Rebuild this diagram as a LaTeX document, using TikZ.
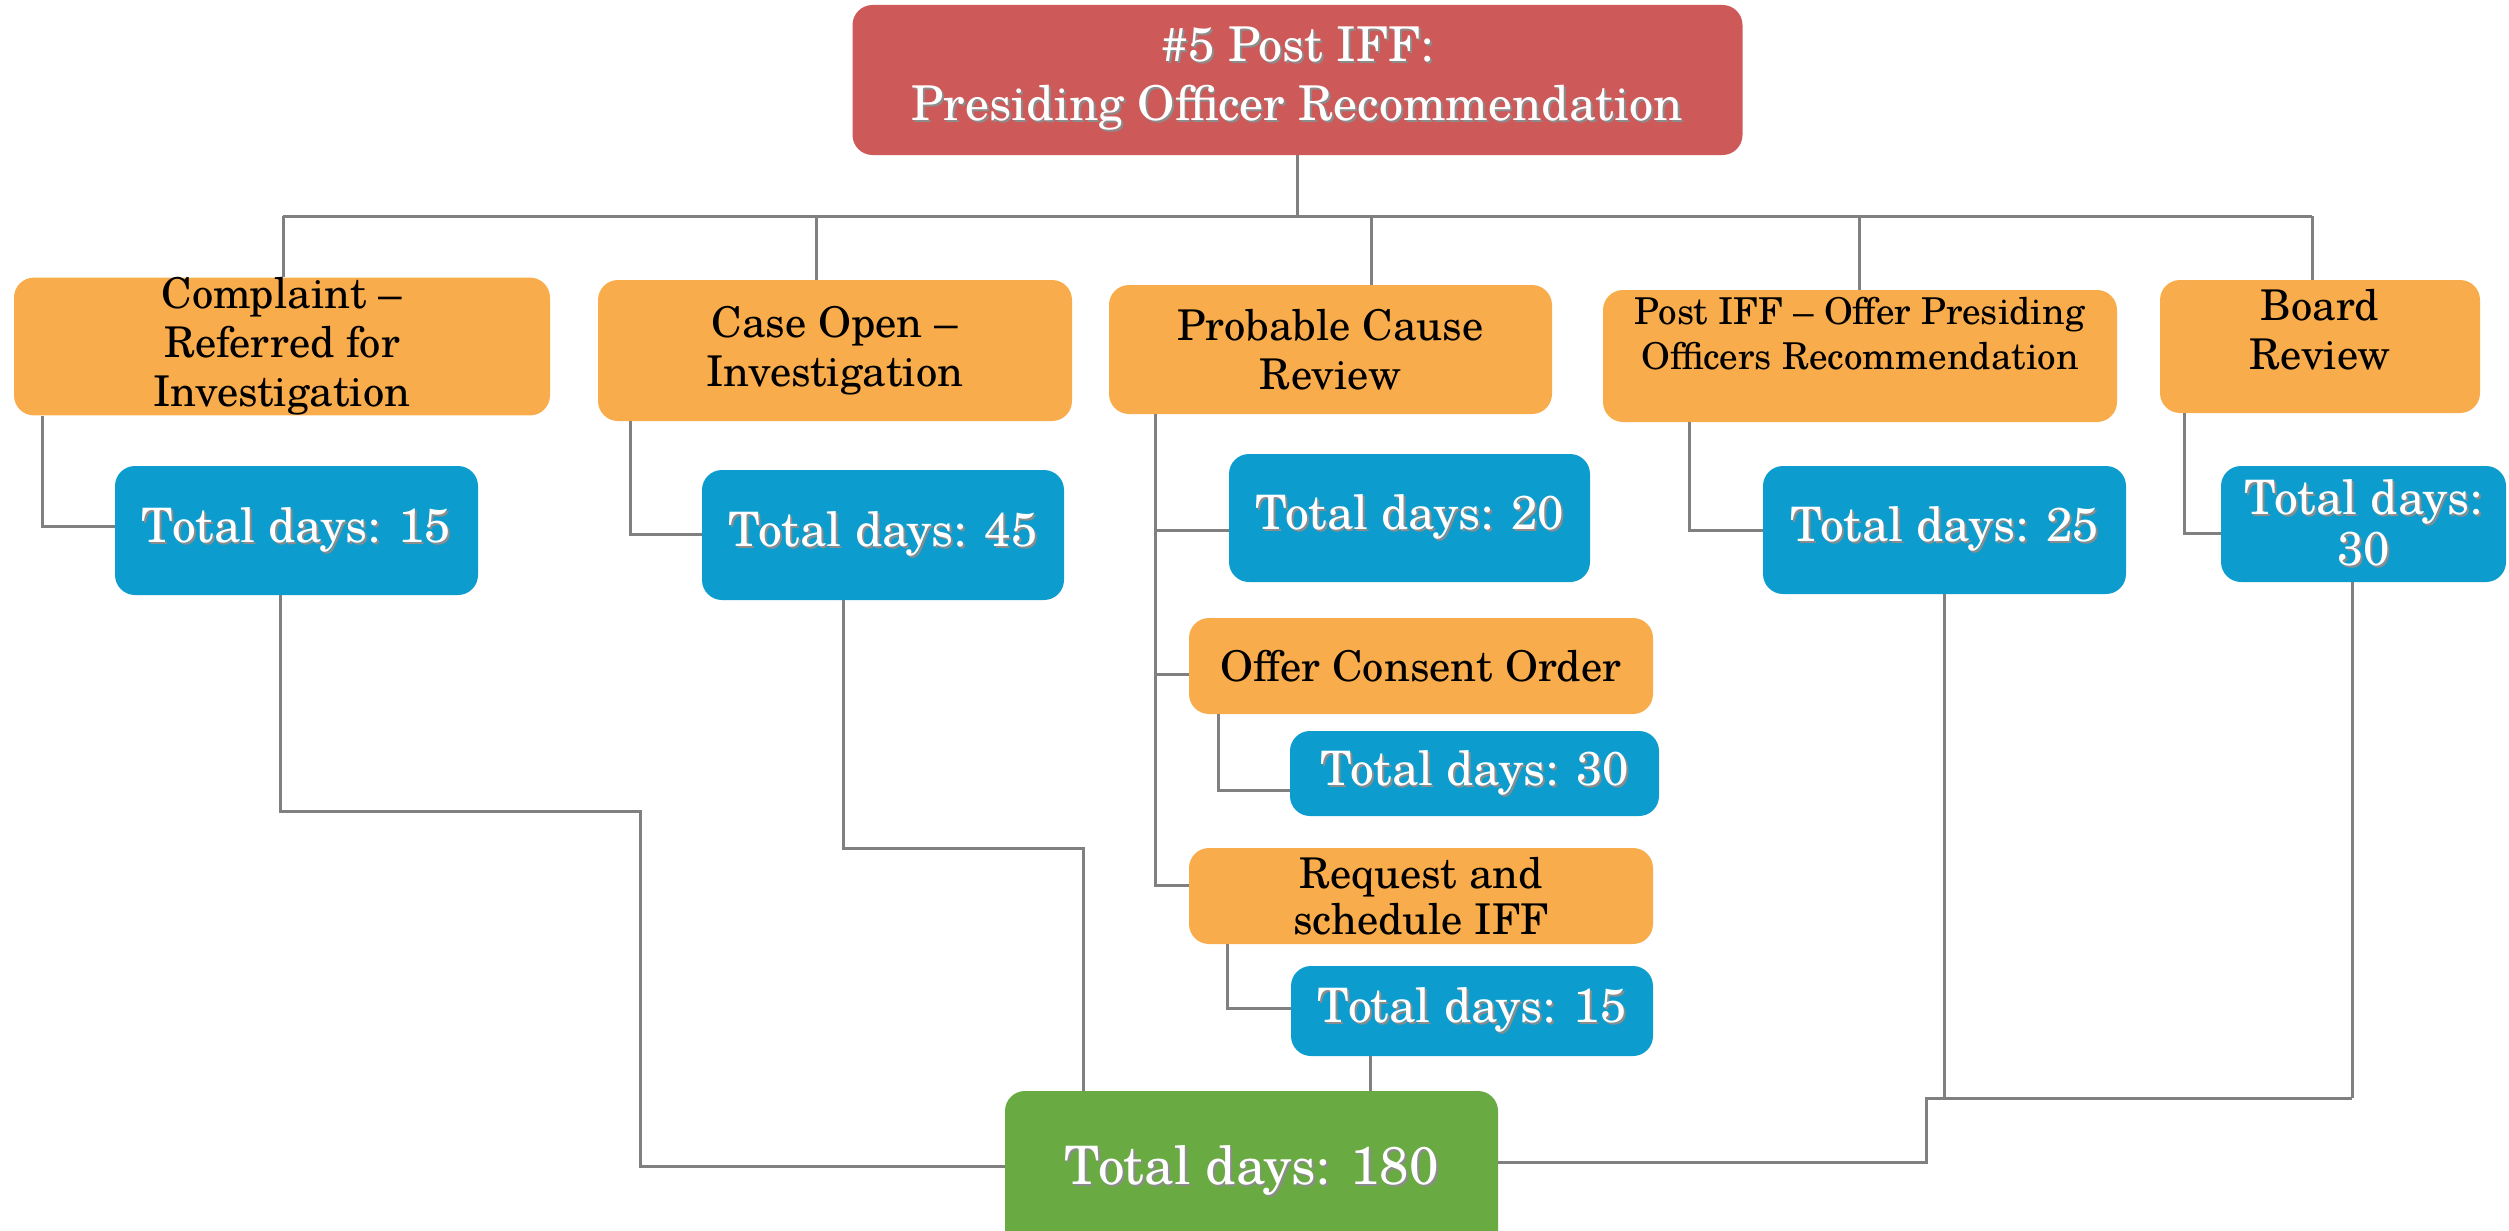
\documentclass[tikz,border=0pt]{standalone}
\usepackage{fontspec}
\setmainfont{TeX Gyre Schola}
\usetikzlibrary{calc}
\definecolor{cred}{RGB}{205,89,89}
\definecolor{corange}{RGB}{249,172,75}
\definecolor{cblue}{RGB}{12,157,206}
\definecolor{cgreen}{RGB}{105,170,67}
\definecolor{cline}{RGB}{128,128,128}
\newcommand\shd[1]{\leavevmode\rlap{\kern2pt\raisebox{-2pt}{\textcolor{black!45}{#1}}}#1}
\tikzset{
  box/.style={rectangle, rounded corners=20pt, inner sep=0pt, align=center},
  redbox/.style={box, fill=cred, text=white, font=\fontsize{48}{59}\selectfont},
  obox/.style={box, fill=corange, text=black, font=\fontsize{42.4}{49}\selectfont},
  bbox/.style={box, fill=cblue, text=white, font=\fontsize{47.5}{52}\selectfont},
  gbox/.style={box, fill=cgreen, text=white, font=\fontsize{53}{60}\selectfont},
  conn/.style={draw=cline, line width=3pt},
}
\begin{document}
\begin{tikzpicture}[x=1pt,y=-1pt]
\useasboundingbox (0,0) rectangle (2509,1231);
% top
\node[redbox, minimum width=890pt, minimum height=150pt] (R) at (1297.5,80) {\shd{\#5 Post IFF:}\\\shd{Presiding Officer Recommendation}};
% level 1
\node[obox, minimum width=536pt, minimum height=133pt] (O1) at (282,346.5) {Complaint –\\Referred for\\Investigation};
\node[obox, minimum width=474pt, minimum height=141pt] (O2) at (835,350.5) {Case Open –\\Investigation};
\node[obox, minimum width=443pt, minimum height=129pt] (O3) at (1330.5,349.5) {Probable Cause\\Review};
\node[obox, minimum width=514pt, minimum height=132pt, font=\fontsize{37}{45}\selectfont] (O4) at (1860,356) {Post IFF – Offer Presiding\\Officers Recommendation\\\mbox{}};
\node[obox, minimum width=320pt, minimum height=133pt] (O5) at (2320,346.5) {Board\\Review\\[-14pt]\mbox{}};
% level 2
\node[bbox, minimum width=363pt, minimum height=129pt] (B1) at (296.5,530.5) {\shd{Total days: 15}};
\node[bbox, minimum width=362pt, minimum height=130pt] (B2) at (883,535) {\shd{Total days: 45}};
\node[bbox, minimum width=361pt, minimum height=128pt] (B3) at (1409.5,518) {\shd{Total days: 20}};
\node[bbox, minimum width=363pt, minimum height=128pt] (B4) at (1944.5,530) {\shd{Total days: 25}};
\node[bbox, minimum width=285pt, minimum height=116pt, font=\fontsize{47.5}{51}\selectfont] (B5) at (2363.5,524) {\shd{Total days:}\\\shd{30}};
% probable cause branch
\node[obox, minimum width=464pt, minimum height=96pt] (O6) at (1421,666) {Offer Consent Order};
\node[bbox, minimum width=369pt, minimum height=85pt] (B6) at (1474.5,773.5) {\shd{Total days: 30}};
\node[obox, minimum width=464pt, minimum height=96pt, font=\fontsize{42.4}{46}\selectfont] (O7) at (1421,896) {Request and\\schedule IFF};
\node[bbox, minimum width=362pt, minimum height=90pt] (B7) at (1472,1011) {\shd{Total days: 15}};
% total
\node[gbox, minimum width=493pt, minimum height=160pt] (G) at (1251.5,1171) {\shd{Total days: 180}};

% connectors: top tree
\coordinate (hub) at (1297.5,216);
\coordinate (hl) at (283,216);
\coordinate (hr) at (2312,216);
\draw[conn] (R.south) -- (hub);
\draw[conn] (hl) -- (hr);
\draw[conn] (hl) -- (O1.north -| hl);
\draw[conn] (hub -| 816,0) -- (O2.north -| 816,0);
\draw[conn] (hub -| 1371,0) -- (O3.north -| 1371,0);
\draw[conn] (hub -| 1859,0) -- (O4.north -| 1859,0);
\draw[conn] (hr) -- (O5.north -| hr);
% children
\draw[conn] (O1.south -| 42,0) |- (B1.west |- 0,526);
\draw[conn] (O2.south -| 630,0) |- (B2.west |- 0,534);
\draw[conn] (O3.south -| 1155,0) |- (B3.west |- 0,530);
\draw[conn] (O3.south -| 1155,0) |- (O6.west |- 0,674);
\draw[conn] (O3.south -| 1155,0) |- (O7.west |- 0,885);
\draw[conn] (O4.south -| 1689,0) |- (B4.west |- 0,530);
\draw[conn] (O5.south -| 2184,0) |- (B5.west |- 0,533);
\draw[conn] (O6.south -| 1218,0) |- (B6.west |- 0,790);
\draw[conn] (O7.south -| 1227,0) |- (B7.west |- 0,1008);
% to total
\draw[conn] (B1.south -| 280,0) -- (280,811) -- (640,811) |- (G.west |- 0,1166);
\draw[conn] (B2.south -| 843,0) -- (843,848) -| (G.north -| 1083,0);
\draw[conn] (B7.south -| 1370,0) -- (G.north -| 1370,0);
\coordinate (jr) at (2352,1098);
\draw[conn] (G.east |- 0,1162) -| (1926,1098) -- (jr);
\draw[conn] (B4.south -| 1944,0) -- (1944,1098);
\draw[conn] (B5.south -| jr) -- (jr);
\end{tikzpicture}
\end{document}
